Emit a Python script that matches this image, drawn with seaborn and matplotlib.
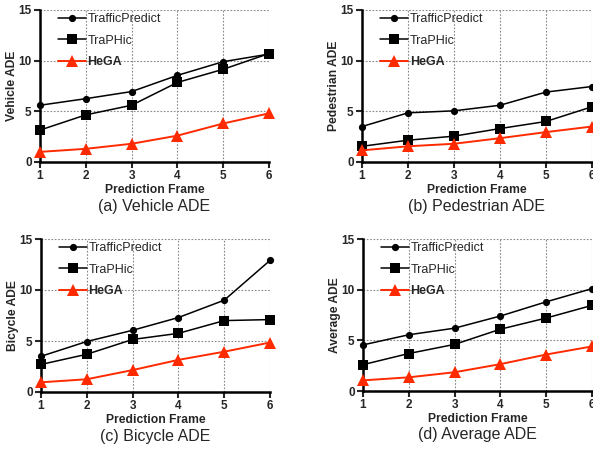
import numpy as np
import pandas as pd
import matplotlib
matplotlib.use("Agg")
import matplotlib.pyplot as plt
import seaborn as sns

# data
frames = [1, 2, 3, 4, 5, 6]
methods = ["TrafficPredict", "TraPHic", "HeGA"]

vehicle_tp = [5.6, 6.25, 6.95, 8.55, 9.9, 10.65]
vehicle_tr = [3.15, 4.65, 5.6, 7.85, 9.15, 10.7]
vehicle_he = [1.0, 1.3, 1.8, 2.6, 3.8, 4.8]

pedestrian_tp = [3.5, 4.85, 5.05, 5.6, 6.9, 7.45]
pedestrian_tr = [1.55, 2.15, 2.55, 3.3, 4.0, 5.45]
pedestrian_he = [1.15, 1.55, 1.8, 2.35, 2.95, 3.5]

bicycle_tp = [3.5, 4.95, 6.05, 7.3, 9.0, 12.9]
bicycle_tr = [2.7, 3.7, 5.15, 5.75, 7.0, 7.1]
bicycle_he = [0.95, 1.25, 2.15, 3.15, 3.95, 4.85]

average_tp = [4.55, 5.55, 6.2, 7.4, 8.8, 10.1]
average_tr = [2.6, 3.7, 4.6, 6.1, 7.2, 8.45]
average_he = [1.05, 1.35, 1.85, 2.65, 3.6, 4.4]

panels = [
    ("Vehicle ADE", "(a) Vehicle ADE", vehicle_tp, vehicle_tr, vehicle_he),
    ("Pedestrian ADE", "(b) Pedestrian ADE", pedestrian_tp, pedestrian_tr, pedestrian_he),
    ("Bicycle ADE", "(c) Bicycle ADE", bicycle_tp, bicycle_tr, bicycle_he),
    ("Average ADE", "(d) Average ADE", average_tp, average_tr, average_he),
]

sns.set_style("white")
plt.rcParams["font.family"] = ["Liberation Sans", "DejaVu Sans"]

W, H = 593, 449
fig = plt.figure(figsize=(W / 100, H / 100), dpi=100)

# axes boxes in pixels: left, top, right, bottom
boxes = [(40, 10, 269, 162), (362, 10, 592, 162),
         (41, 239, 270, 392), (363, 239, 592, 391)]

styles = {
    "TrafficPredict": dict(color="black", marker="o", markersize=5.2, linewidth=1.1),
    "TraPHic": dict(color="black", marker="s", markersize=7, linewidth=1.1),
    "HeGA": dict(color="#ff2a00", marker="^", markersize=8, linewidth=1.4),
}

for (ylab, cap, tp, tr, he), (l, t, r, b) in zip(panels, boxes):
    ax = fig.add_axes([l / W, 1 - b / H, (r - l) / W, (b - t) / H])
    df = pd.DataFrame({"frame": frames * 3,
                       "ade": tp + tr + he,
                       "method": np.repeat(methods, len(frames))})
    for m in methods:
        sub = df[df["method"] == m]
        st = styles[m]
        sns.lineplot(data=sub, x="frame", y="ade", ax=ax, label=m,
                     color=st["color"], marker=st["marker"],
                     markersize=st["markersize"], linewidth=st["linewidth"],
                     markeredgewidth=0, clip_on=False, zorder=5)
    ax.set_xlim(1, 6)
    ax.set_ylim(0, 15)
    ax.set_xticks(frames)
    ax.set_yticks([0, 5, 10, 15])
    ax.grid(True, color="#888888", linestyle=(0, (1.5, 1.5)), linewidth=0.8)
    for s in ["top", "right"]:
        ax.spines[s].set_visible(False)
    for s in ["left", "bottom"]:
        ax.spines[s].set_linewidth(1.8)
        ax.spines[s].set_color("black")
    ax.tick_params(axis="both", direction="out", length=4, width=1.5,
                   labelsize=8.5, pad=2, left=True, bottom=True)
    for lbl in ax.get_xticklabels() + ax.get_yticklabels():
        lbl.set_fontweight("bold")
    ax.set_xlabel("Prediction Frame", fontsize=8.7, fontweight="bold", labelpad=1)
    ax.set_ylabel(ylab, fontsize=8.7, fontweight="bold", labelpad=0)
    leg = ax.legend(loc="upper left", bbox_to_anchor=(0.055, 1.01), frameon=False,
                    fontsize=9, labelspacing=0.75, handlelength=2.3,
                    handletextpad=0.1, borderaxespad=0)
    leg.get_texts()[2].set_fontweight("bold")
    fig.text((l + r) / 2 / W, 1 - (b + 44) / H, cap, ha="center", va="center",
             fontsize=11.5)

fig.savefig("out.png", dpi=100)
